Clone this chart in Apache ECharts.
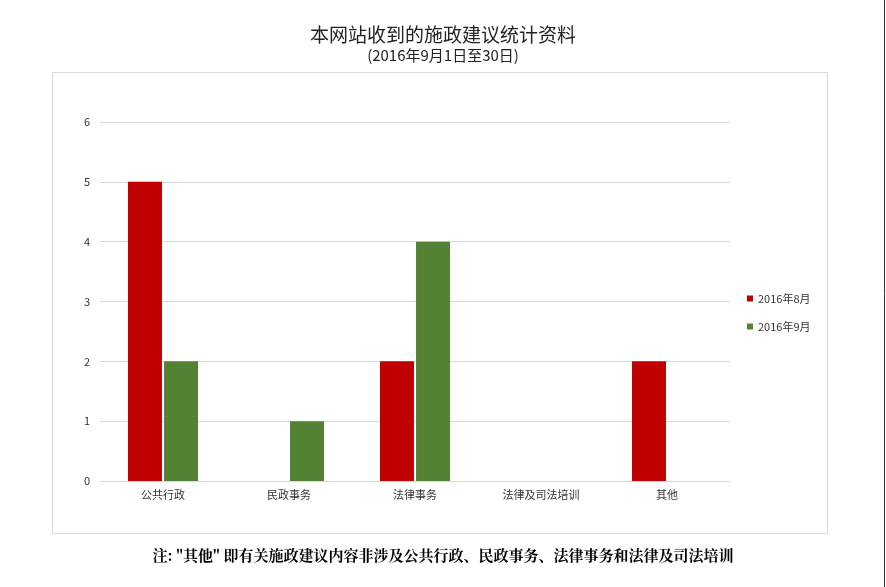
<!DOCTYPE html>
<html>
<head>
<meta charset="utf-8">
<script src="https://cdn.jsdelivr.net/npm/echarts@6/dist/echarts.min.js"></script>
<style>html,body{margin:0;padding:0;background:#fff}#chart{width:886px;height:587px}</style>
</head>
<body>
<div id="chart"></div>
<script>
var categories = ['公共行政', '民政事务', '法律事务', '法律及司法培训', '其他'];
var seriesNames = ['2016年8月', '2016年9月'];
var aug = [5, 0, 2, 0, 2];
var sep = [2, 1, 4, 0, 0];

var myChart = echarts.init(document.getElementById('chart'));
var font = '"Noto Sans CJK SC", sans-serif';
var option = {
    animation: false,
    title: {
        text: '本网站收到的施政建议统计资料',
        subtext: '(2016年9月1日至30日)',
        left: 'center', top: 20, itemGap: 4,
        textStyle: {fontFamily: font, fontSize: 19, fontWeight: 'normal', color: '#222'},
        subtextStyle: {fontFamily: font, fontSize: 15, color: '#222'}
    },
    legend: {
        data: seriesNames, orient: 'vertical', left: 742, top: 288, itemGap: 17,
        itemWidth: 6, itemHeight: 6, icon: 'rect',
        textStyle: {fontFamily: font, fontSize: 11, color: '#333'}
    },
    grid: {left: 100, right: 156, top: 122, bottom: 106, containLabel: false},
    xAxis: {
        type: 'category', data: categories,
        axisLine: {lineStyle: {color: '#d9d9d9'}}, axisTick: {show: false},
        axisLabel: {fontFamily: font, fontSize: 11, color: '#333', margin: 8}
    },
    yAxis: {
        type: 'value', min: 0, max: 6, interval: 1,
        axisLine: {show: false}, axisTick: {show: false},
        splitLine: {lineStyle: {color: '#d9d9d9'}},
        axisLabel: {fontFamily: font, fontSize: 11, color: '#333', margin: 10}
    },
    series: [
        {name: seriesNames[0], type: 'bar', data: aug, barWidth: 34, barGap: '6%', itemStyle: {color: '#c00000'}},
        {name: seriesNames[1], type: 'bar', data: sep, barWidth: 34, itemStyle: {color: '#548235'}}
    ],
    graphic: [
        {type: 'rect', shape: {x: 52.5, y: 72.5, width: 775, height: 461}, style: {fill: 'none', stroke: '#d9d9d9', lineWidth: 1}, z: -1},
        {type: 'line', shape: {x1: 884.5, y1: 0, x2: 884.5, y2: 587}, style: {stroke: '#333', lineWidth: 1}},
        {type: 'text', left: 'center', top: 548, style: {text: '注: "其他" 即有关施政建议内容非涉及公共行政、民政事务、法律事务和法律及司法培训', font: 'bold 15px "Noto Serif CJK SC", "Noto Sans CJK SC", serif', fill: '#000'}}
    ]
};
myChart.setOption(option);
</script>
</body>
</html>
